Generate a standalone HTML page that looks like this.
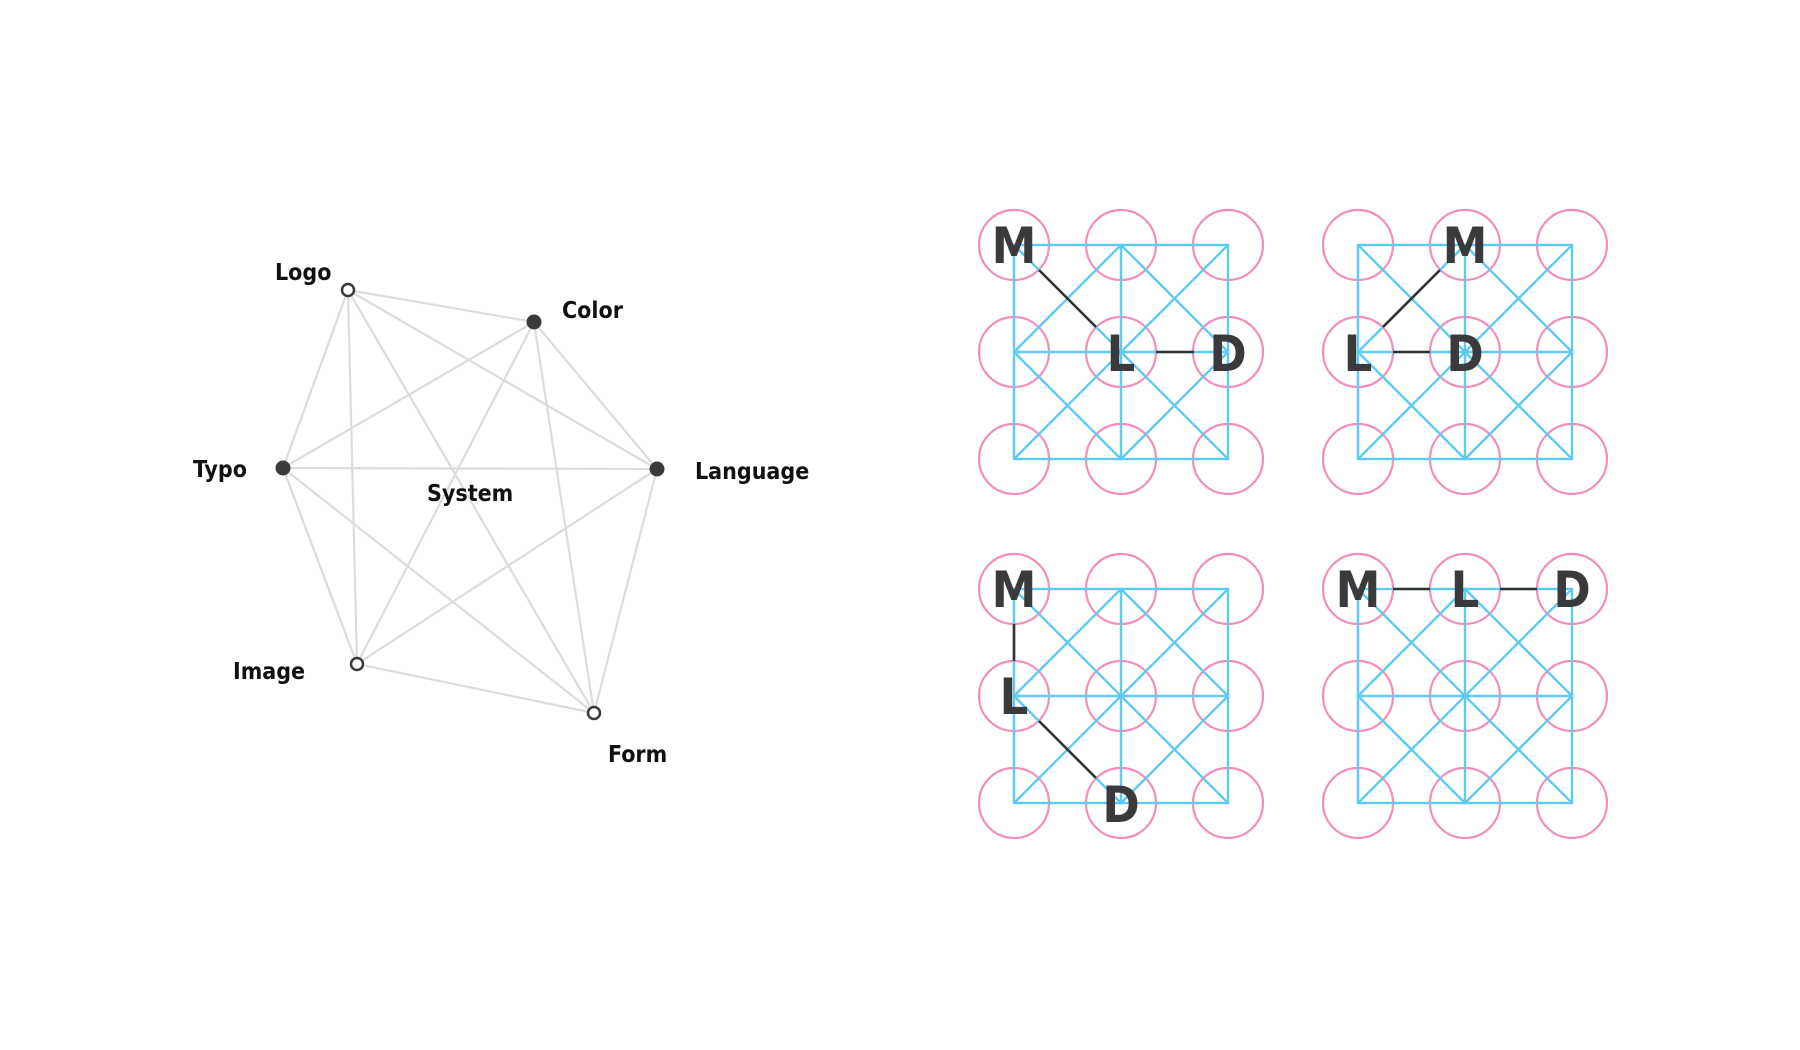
<!DOCTYPE html>
<html><head><meta charset="utf-8"><style>
html,body{margin:0;padding:0;background:#fff;}
svg{display:block;}
.lbl{font-family:"DejaVu Sans Condensed","Liberation Sans",sans-serif;font-size:23px;font-weight:600;fill:#111;}
.big{font-family:"DejaVu Sans Condensed","Liberation Sans",sans-serif;font-size:50px;font-weight:bold;fill:#3a3a3c;}
</style></head><body>
<svg width="1800" height="1050" viewBox="0 0 1800 1050" xmlns="http://www.w3.org/2000/svg">
<g stroke="#dcdcdc" stroke-width="2.2">
<line x1="348" y1="290" x2="534" y2="322"/><line x1="348" y1="290" x2="283" y2="468"/><line x1="348" y1="290" x2="657" y2="469"/><line x1="348" y1="290" x2="357" y2="664"/><line x1="348" y1="290" x2="594" y2="713"/>
<line x1="534" y1="322" x2="283" y2="468"/><line x1="534" y1="322" x2="657" y2="469"/><line x1="534" y1="322" x2="357" y2="664"/><line x1="534" y1="322" x2="594" y2="713"/>
<line x1="283" y1="468" x2="657" y2="469"/><line x1="283" y1="468" x2="357" y2="664"/><line x1="283" y1="468" x2="594" y2="713"/>
<line x1="657" y1="469" x2="357" y2="664"/><line x1="657" y1="469" x2="594" y2="713"/>
<line x1="357" y1="664" x2="594" y2="713"/>
</g>
<g fill="#3a3a3c"><circle cx="534" cy="322" r="7.5"/><circle cx="283" cy="468" r="7.5"/><circle cx="657" cy="469" r="7.5"/></g>
<g fill="#fff" stroke="#3a3a3c" stroke-width="2.5"><circle cx="348" cy="290" r="6"/><circle cx="357" cy="664" r="6"/><circle cx="594" cy="713" r="6"/></g>
<text class="lbl" x="275" y="280">Logo</text>
<text class="lbl" x="562" y="318">Color</text>
<text class="lbl" x="193" y="477">Typo</text>
<text class="lbl" x="695" y="479">Language</text>
<text class="lbl" x="427" y="501">System</text>
<text class="lbl" x="233" y="679">Image</text>
<text class="lbl" x="608" y="762">Form</text>

<defs>
<g id="grid">
<g fill="none" stroke="#f28dbd" stroke-width="2.2">
<circle cx="0" cy="0" r="35"/><circle cx="107" cy="0" r="35"/><circle cx="214" cy="0" r="35"/>
<circle cx="0" cy="107" r="35"/><circle cx="107" cy="107" r="35"/><circle cx="214" cy="107" r="35"/>
<circle cx="0" cy="214" r="35"/><circle cx="107" cy="214" r="35"/><circle cx="214" cy="214" r="35"/>
</g>
<g fill="none" stroke="#5fcaf2" stroke-width="2.4">
<rect x="0" y="0" width="214" height="214"/>
<line x1="107" y1="0" x2="107" y2="214"/><line x1="0" y1="107" x2="214" y2="107"/>
<line x1="0" y1="0" x2="214" y2="214"/><line x1="214" y1="0" x2="0" y2="214"/>
<polygon points="107,0 214,107 107,214 0,107"/>
</g>
</g>
</defs>
<use href="#grid" x="1014" y="245"/>
<use href="#grid" x="1358" y="245"/>
<use href="#grid" x="1014" y="589"/>
<use href="#grid" x="1358" y="589"/>

<g stroke="#333" stroke-width="2.6">
<line x1="1039" y1="270" x2="1096" y2="327"/><line x1="1156" y1="352" x2="1194" y2="352"/>
<line x1="1440" y1="270" x2="1383" y2="327"/><line x1="1393" y1="352" x2="1430" y2="352"/>
<line x1="1014" y1="624" x2="1014" y2="661"/><line x1="1039" y1="721" x2="1096" y2="778"/>
<line x1="1393" y1="589" x2="1430" y2="589"/><line x1="1500" y1="589" x2="1537" y2="589"/>
</g>
<g class="big" text-anchor="middle">
<text x="1014" y="263">M</text><text x="1121" y="371">L</text><text x="1228" y="371">D</text>
<text x="1465" y="263">M</text><text x="1358" y="371">L</text><text x="1465" y="371">D</text>
<text x="1014" y="607">M</text><text x="1014" y="714">L</text><text x="1121" y="822">D</text>
<text x="1358" y="607">M</text><text x="1465" y="607">L</text><text x="1572" y="607">D</text>
</g>
</svg>
</body></html>
